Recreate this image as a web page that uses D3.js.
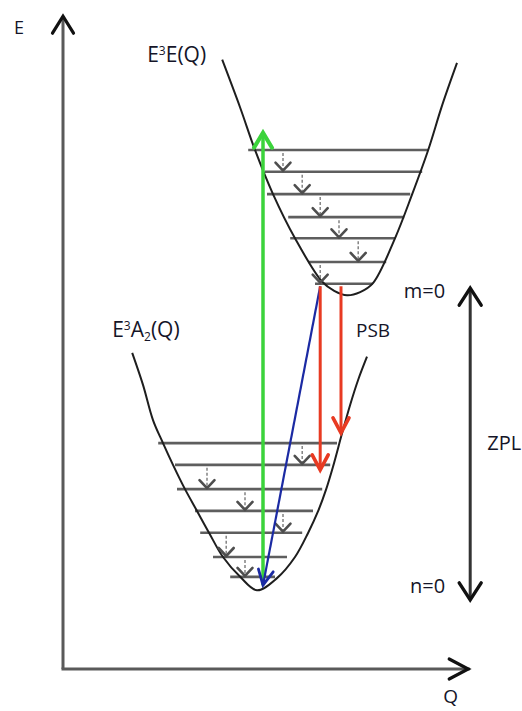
<!DOCTYPE html>
<html><head><meta charset="utf-8">
<script src="https://cdn.jsdelivr.net/npm/d3@7"></script>
<style>body{margin:0;background:#fff}svg{display:block}</style>
</head><body>
<svg id="c" width="522" height="711"></svg>
<script>
// ---- data (configuration coordinate Q, energy E, arbitrary units) ----
const excitedCurve = [[3.98,9.52],[4.43,8.77],[4.8,8.11],[5.25,7.42],[5.8,6.73],[6.48,6.05],[6.78,5.91],[7.1,5.84],[7.43,5.89],[7.75,6.03],[8.3,6.73],[8.73,7.42],[9.13,8.11],[9.48,8.81],[9.85,9.47]];
const groundCurve = [[1.73,4.94],[2.0,4.44],[2.25,3.89],[2.5,3.53],[2.75,3.19],[3.05,2.81],[3.35,2.47],[3.65,2.13],[4.0,1.75],[4.43,1.44],[4.85,1.23],[5.35,1.42],[5.8,1.75],[6.13,2.13],[6.38,2.47],[6.58,2.81],[6.75,3.16],[6.98,3.69],[7.18,4.13],[7.38,4.52],[7.6,4.88]];

const excitedLevelE  = [8.11,7.77,7.42,7.06,6.73,6.36,6.02];
const excitedLevelQ1 = [4.63,5.05,5.1,5.63,5.68,6.13,6.3];
const excitedLevelQ2 = [9.13,8.98,8.68,8.53,8.3,8.08,7.75];
const groundLevelE   = [3.53,3.19,2.81,2.47,2.13,1.75,1.44];
const groundLevelQ1  = [2.38,2.8,2.85,3.3,3.43,3.75,4.18];
const groundLevelQ2  = [6.85,6.68,6.48,6.25,5.98,5.6,5.3];

// relaxation arrow i goes from level i to level i+1
const excitedRelaxQ = [5.5,5.98,6.43,6.9,7.38,6.43];
const groundRelaxQ  = [5.98,3.6,4.55,5.5,4.08,4.55];

const transitionNames = ["absorption","psbBlue","psbRed1","psbRed2"];
const transitionQ1 = [5.0,6.43,6.43,6.95];
const transitionE1 = [1.31,5.98,5.98,5.98];
const transitionQ2 = [5.0,5.0,6.43,6.95];
const transitionE2 = [8.38,1.31,3.11,3.69];

const zplQ = 10.18;
const zplE = [5.95,1.08];
const axisMax = [10.13,10.2];

// ---- styles ----
const transitionStyle = {
  absorption:{color:"#3bd33b", w:3.5, hw:9, len:15},
  psbBlue:{color:"#1b2aa3", w:2.2, hw:7.5, len:15},
  psbRed1:{color:"#e83a22", w:3, hw:8, len:15},
  psbRed2:{color:"#e83a22", w:3, hw:8, len:15}
};
const font = "'Open Sans', 'Noto Sans', sans-serif";
const textColor = "#151528";

const svg = d3.select("#c");
const x = d3.scaleLinear().domain([0,10]).range([63,463]);
const y = d3.scaleLinear().domain([0,10]).range([669,29]);

function chevron(x1,y1,x2,y2,len,hw){
  const dx=x2-x1, dy=y2-y1, L=Math.hypot(dx,dy);
  const ux=dx/L, uy=dy/L, px=-uy, py=ux;
  const bx=x2-ux*len, by=y2-uy*len;
  return `M${bx+px*hw},${by+py*hw}L${x2},${y2}L${bx-px*hw},${by-py*hw}`;
}

// ---- axes ----
const ax = svg.append("g");
ax.append("line").attr("x1",x(0)).attr("y1",y(0)).attr("x2",x(0)).attr("y2",y(axisMax[1]))
  .attr("stroke","#5a5a5a").attr("stroke-width",3);
ax.append("line").attr("x1",x(0)).attr("y1",y(0)).attr("x2",x(axisMax[0])).attr("y2",y(0))
  .attr("stroke","#5a5a5a").attr("stroke-width",3).attr("stroke-linecap","square");
ax.append("path").attr("d",chevron(x(0),y(0),x(0),y(axisMax[1]),17,10.5))
  .attr("fill","none").attr("stroke","#111").attr("stroke-width",3.2).attr("stroke-linecap","round");
ax.append("path").attr("d",chevron(x(0),y(0),x(axisMax[0]),y(0),19,10))
  .attr("fill","none").attr("stroke","#111").attr("stroke-width",3.2).attr("stroke-linecap","round");

// ---- vibrational levels ----
function levels(E,Q1,Q2){
  svg.append("g").selectAll("line").data(E).join("line")
    .attr("x1",(d,i)=>x(Q1[i])).attr("x2",(d,i)=>x(Q2[i]))
    .attr("y1",d=>y(d)).attr("y2",d=>y(d))
    .attr("stroke","#5e5e5e").attr("stroke-width",2.6);
}
levels(excitedLevelE,excitedLevelQ1,excitedLevelQ2);
levels(groundLevelE,groundLevelQ1,groundLevelQ2);

// ---- potential curves ----
const line = d3.line().x(d=>x(d[0])).y(d=>y(d[1])).curve(d3.curveCatmullRom.alpha(0.5));
[excitedCurve,groundCurve].forEach(c=>{
  svg.append("path").attr("d",line(c)).attr("fill","none")
    .attr("stroke","#1e1e1e").attr("stroke-width",2);
});

// ---- relaxation arrows ----
function relax(Qs,E){
  const g = svg.append("g");
  Qs.forEach((q,i)=>{
    const x0=x(q), y1=y(E[i])+3, y2=y(E[i+1])-1;
    g.append("line").attr("x1",x0).attr("x2",x0).attr("y1",y1).attr("y2",y2)
      .attr("stroke","#7a7a7a").attr("stroke-width",1.4).attr("stroke-dasharray","3,2");
    g.append("path").attr("d",chevron(x0,y1,x0,y2,8,7.5))
      .attr("fill","none").attr("stroke","#4e4e4e").attr("stroke-width",2.6).attr("stroke-linecap","round");
  });
}
relax(excitedRelaxQ,excitedLevelE);
relax(groundRelaxQ,groundLevelE);

// ---- optical transitions ----
transitionNames.forEach((n,i)=>{
  const s=transitionStyle[n];
  const x1=x(transitionQ1[i]), y1=y(transitionE1[i]), x2=x(transitionQ2[i]), y2=y(transitionE2[i]);
  svg.append("line").attr("x1",x1).attr("y1",y1).attr("x2",x2).attr("y2",y2)
    .attr("stroke",s.color).attr("stroke-width",s.w);
  svg.append("path").attr("d",chevron(x1,y1,x2,y2,s.len,s.hw))
    .attr("fill","none").attr("stroke",s.color).attr("stroke-width",s.w+0.6)
    .attr("stroke-linecap","round").attr("stroke-linejoin","miter");
});

// ---- ZPL double arrow ----
const zx = x(zplQ), zy1=y(zplE[0]), zy2=y(zplE[1]);
svg.append("line").attr("x1",zx).attr("x2",zx).attr("y1",zy1).attr("y2",zy2)
  .attr("stroke","#333").attr("stroke-width",3);
svg.append("path").attr("d",chevron(zx,zy2,zx,zy1,17,11))
  .attr("fill","none").attr("stroke","#111").attr("stroke-width",3.4).attr("stroke-linecap","round");
svg.append("path").attr("d",chevron(zx,zy1,zx,zy2,17,11))
  .attr("fill","none").attr("stroke","#111").attr("stroke-width",3.4).attr("stroke-linecap","round");

// ---- labels ----
function label(tx,ty,size,anchor){
  return svg.append("text").attr("x",tx).attr("y",ty).attr("font-family",font)
    .attr("font-size",size).attr("fill",textColor).attr("text-anchor",anchor||"start");
}
label(x(0)-49,y(axisMax[1])+18,18).text("E");
label(x(axisMax[0])-25,y(0)+34,19).text("Q");

const t1 = label(x(excitedCurve[0][0])-75,y(excitedCurve[0][1])+2,21);
t1.append("tspan").text("E");
t1.append("tspan").attr("font-size",12).attr("dy",-7).text("3");
t1.append("tspan").attr("dy",7).text("E(Q)");

const t2 = label(x(groundCurve[0][0])-20,y(groundCurve[0][1])-16,21);
t2.append("tspan").text("E");
t2.append("tspan").attr("font-size",12).attr("dy",-7).text("3");
t2.append("tspan").attr("dy",7).text("A");
t2.append("tspan").attr("font-size",12).attr("dy",4).text("2");
t2.append("tspan").attr("dy",-4).text("(Q)");

label(zx-25,zy1+10,20,"end").text("m=0");
label(zx-25,zy2-7,20,"end").text("n=0");
label(zx+17,(zy1+zy2)/2+6,20).text("ZPL");
label(x(transitionQ2[3])+15,y(transitionE1[3])+51,19).text("PSB");
</script>
</body></html>
